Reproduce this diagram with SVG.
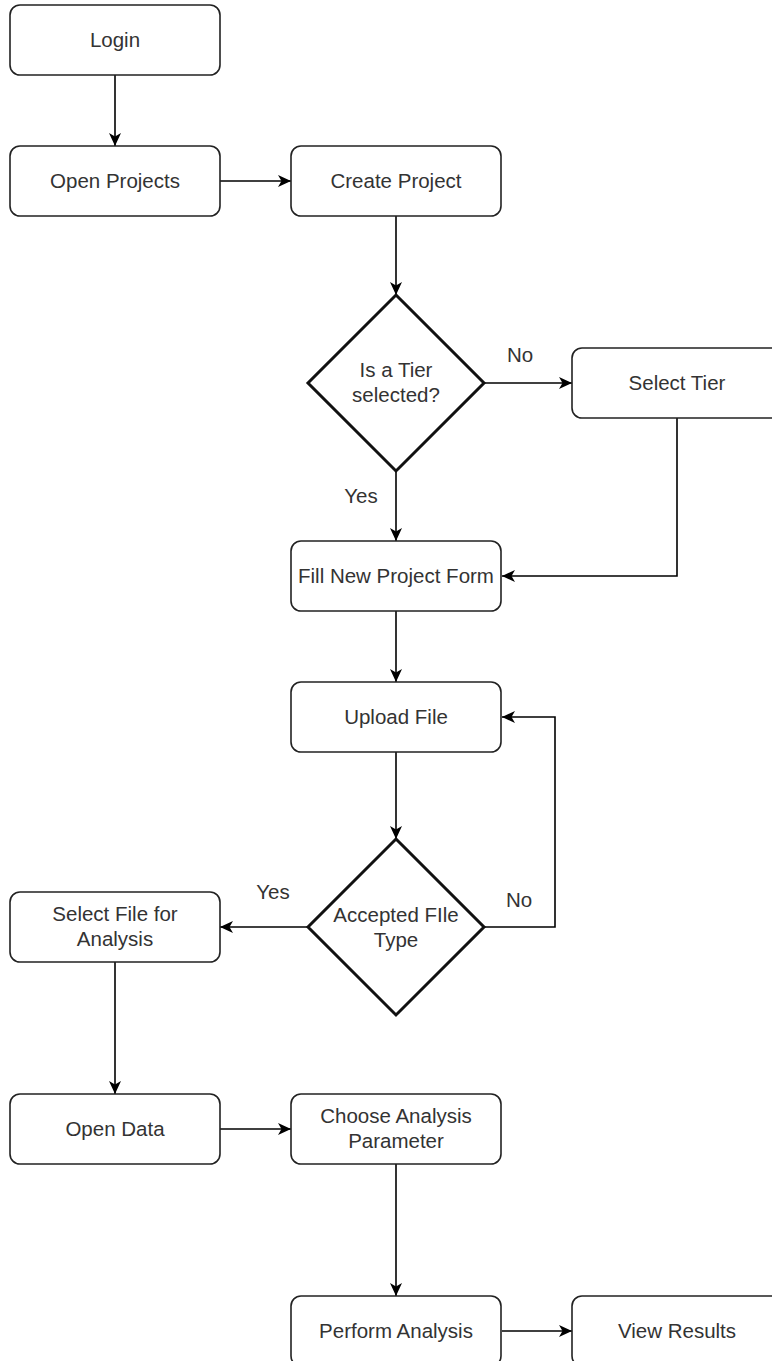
<svg xmlns="http://www.w3.org/2000/svg" width="772" height="1361" viewBox="0 0 772 1361">
<style>
  .box{fill:#ffffff;stroke:#222222;stroke-width:1.6}
  .dia{fill:#ffffff;stroke:#111111;stroke-width:3}
  .t{font-family:"Liberation Sans",Arial,Helvetica,sans-serif;font-size:20.5px;fill:#333333;text-anchor:middle}
  .edge{fill:none;stroke:#000000;stroke-width:1.6}
</style>
<defs>
  <marker id="arr" markerWidth="14" markerHeight="14" refX="13" refY="7" orient="auto" markerUnits="userSpaceOnUse">
    <path d="M0,1 L13,7 L0,13 L3.5,7 Z" fill="#000000"/>
  </marker>
</defs>
<rect width="772" height="1361" fill="#ffffff"/>
<g id="connectors">
  <path class="edge" d="M115,75 L115,146" marker-end="url(#arr)"/>
  <path class="edge" d="M220,181 L291,181" marker-end="url(#arr)"/>
  <path class="edge" d="M396,216 L396,295" marker-end="url(#arr)"/>
  <path class="edge" d="M484,383 L572,383" marker-end="url(#arr)"/>
  <path class="edge" d="M396,471 L396,541" marker-end="url(#arr)"/>
  <path class="edge" d="M677,418 L677,576 L502,576" marker-end="url(#arr)"/>
  <path class="edge" d="M396,611 L396,682" marker-end="url(#arr)"/>
  <path class="edge" d="M396,752 L396,839" marker-end="url(#arr)"/>
  <path class="edge" d="M484,927 L555,927 L555,717 L502,717" marker-end="url(#arr)"/>
  <path class="edge" d="M308,927 L220,927" marker-end="url(#arr)"/>
  <path class="edge" d="M115,962 L115,1094" marker-end="url(#arr)"/>
  <path class="edge" d="M220,1129 L291,1129" marker-end="url(#arr)"/>
  <path class="edge" d="M396,1164 L396,1296" marker-end="url(#arr)"/>
  <path class="edge" d="M502,1331 L572,1331" marker-end="url(#arr)"/>
  <text class="t" x="520" y="362">No</text>
  <text class="t" x="361" y="503">Yes</text>
  <text class="t" x="273" y="899">Yes</text>
  <text class="t" x="519" y="907">No</text>
</g>
<g id="login"><rect class="box" x="10" y="5" width="210" height="70" rx="10"/><text class="t" x="115" y="47">Login</text></g>
<g id="openProjects"><rect class="box" x="10" y="146" width="210" height="70" rx="10"/><text class="t" x="115" y="188">Open Projects</text></g>
<g id="createProject"><rect class="box" x="291" y="146" width="210" height="70" rx="10"/><text class="t" x="396" y="188">Create Project</text></g>
<g id="tierDecision"><polygon class="dia" points="396,295 484,383 396,471 308,383"/><text class="t" x="396" y="377">Is a Tier</text><text class="t" x="396" y="402">selected?</text></g>
<g id="selectTier"><rect class="box" x="572" y="348" width="210" height="70" rx="10"/><text class="t" x="677" y="390">Select Tier</text></g>
<g id="fillForm"><rect class="box" x="291" y="541" width="210" height="70" rx="10"/><text class="t" x="396" y="583">Fill New Project Form</text></g>
<g id="uploadFile"><rect class="box" x="291" y="682" width="210" height="70" rx="10"/><text class="t" x="396" y="724">Upload File</text></g>
<g id="fileDecision"><polygon class="dia" points="396,839 484,927 396,1015 308,927"/><text class="t" x="396" y="922">Accepted FIle</text><text class="t" x="396" y="947">Type</text></g>
<g id="selectFile"><rect class="box" x="10" y="892" width="210" height="70" rx="10"/><text class="t" x="115" y="921">Select File for</text><text class="t" x="115" y="946">Analysis</text></g>
<g id="openData"><rect class="box" x="10" y="1094" width="210" height="70" rx="10"/><text class="t" x="115" y="1136">Open Data</text></g>
<g id="chooseParam"><rect class="box" x="291" y="1094" width="210" height="70" rx="10"/><text class="t" x="396" y="1123">Choose Analysis</text><text class="t" x="396" y="1148">Parameter</text></g>
<g id="performAnalysis"><rect class="box" x="291" y="1296" width="210" height="70" rx="10"/><text class="t" x="396" y="1338">Perform Analysis</text></g>
<g id="viewResults"><rect class="box" x="572" y="1296" width="210" height="70" rx="10"/><text class="t" x="677" y="1338">View Results</text></g>
</svg>
